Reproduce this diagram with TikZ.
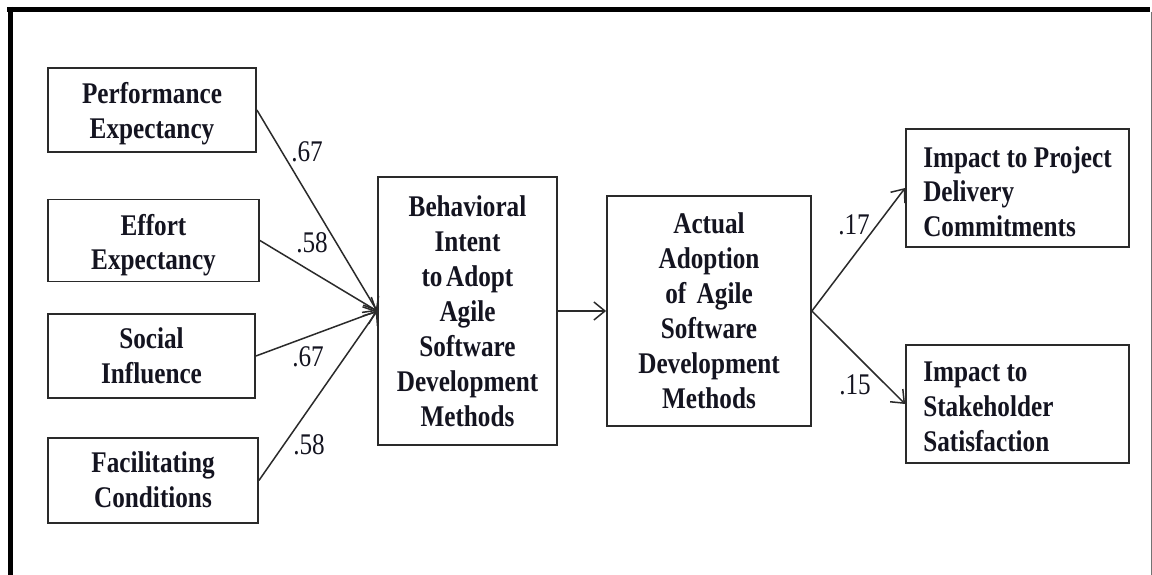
\documentclass[tikz,border=0pt]{standalone}
\usepackage{fontspec}
\usetikzlibrary{arrows.meta}
\newfontfamily\boxfont[FakeStretch=0.84]{Liberation Serif}
\definecolor{inkline}{HTML}{2A2A2A}
\definecolor{inktext}{HTML}{141420}
% stacked lines, left or centred, dropped a little inside their box
% (declared height and depth stay those of the unlowered block)
\newcommand{\leftlines}[2]{\raisebox{-#1}[\height][\depth]{\begin{tabular}{@{}l@{}}#2\end{tabular}}}
\newcommand{\midlines}[2]{\raisebox{-#1}[\height][\depth]{\begin{tabular}{@{}c@{}}#2\end{tabular}}}
\begin{document}
\begin{tikzpicture}[x=1pt,y=-1pt,
  box/.style={draw=inkline, line width=1.8pt, rectangle, inner sep=0pt,
    text=inktext, font=\boxfont\bfseries\fontsize{30}{35}\selectfont},
  cbox/.style={box, align=center},
  lbox/.style={box},
  arr/.style={draw=inkline, line width=1.5pt,
    -{Straight Barb[length=11pt,width=18pt,line width=1.5pt]}},
  coef/.style={text=inktext, inner sep=0pt, font=\boxfont\fontsize{30}{35}\selectfont}]
\useasboundingbox (0,0) rectangle (1152,575);
\fill[white] (0,0) rectangle (1152,575);

% outer frame: heavy top and left edges, thin right edge
\draw[line width=5pt, black] (7,9.5) -- (1150,9.5);
\draw[line width=5pt, black] (10,7) -- (10,575);
\draw[line width=1pt, black!55] (1151,12) -- (1151,575);

% predictors
\node[box, minimum width=208pt, minimum height=84pt] (pe) at (152,110) {\midlines{4pt}{Performance\\Expectancy}};
\node[box, minimum width=211pt, minimum height=82pt] (ee) at (153.5,240.5) {\midlines{5pt}{Effort\\Expectancy}};
\node[box, minimum width=207pt, minimum height=84pt] (si) at (151.5,356) {\midlines{3pt}{Social\\Influence}};
\node[box, minimum width=210pt, minimum height=85pt] (fc) at (153,480.5) {\midlines{2pt}{Facilitating\\Conditions}};

% intention and adoption
\node[cbox, minimum width=179pt, minimum height=268pt] (bi) at (467.5,311)
  {Behavioral\\Intent\\to\hspace{0.12em}Adopt\\Agile\\Software\\Development\\Methods};
\node[cbox, minimum width=204pt, minimum height=230pt] (aa) at (709,311)
  {Actual\\Adoption\\of\hspace{0.35em}Agile\\Software\\Development\\Methods};

% outcomes
\node[lbox, minimum width=223pt, minimum height=118pt] (ip) at (1017.5,188)
  {\leftlines{7pt}{Impact to Project\\Delivery\\Commitments}};
\node[lbox, minimum width=223pt, minimum height=118pt] (is) at (1017.5,404)
  {\leftlines{5pt}{Impact to\\Stakeholder\\Satisfaction\\[-35pt]\hphantom{Impact to Project}}};

% paths
\draw[arr] (pe.east) -- (bi.west);
\draw[arr] (ee.east) -- (bi.west);
\draw[arr] (si.east) -- (bi.west);
\draw[arr] (fc.east) -- (bi.west);
\draw[arr] (bi.east) -- (aa.west);
\draw[arr] (aa.east) -- (ip.west);
\draw[arr] (aa.east) -- (is.west);

% path coefficients
\node[coef] (c1) at (307,152) {.67};
\node[coef] (c2) at (312,243) {.58};
\node[coef] (c3) at (308,357) {.67};
\node[coef] (c4) at (309,445) {.58};
\node[coef] (c5) at (854,225) {.17};
\node[coef] (c6) at (855,385) {.15};
\end{tikzpicture}
\end{document}
